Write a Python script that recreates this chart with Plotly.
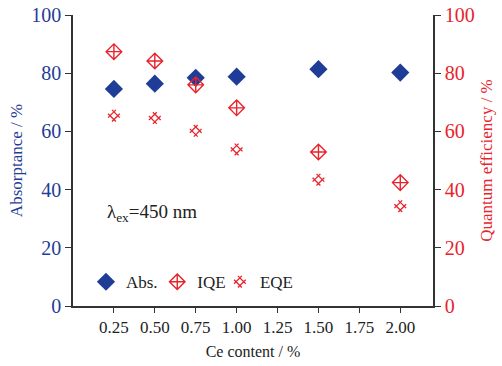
import plotly.graph_objects as go

ce = [0.25, 0.50, 0.75, 1.00, 1.50, 2.00]
absorb = [74.6, 76.4, 78.4, 78.8, 81.4, 80.2]
iqe = [87.4, 84.2, 76.0, 68.1, 52.9, 42.4]
eqe = [65.4, 64.6, 60.2, 53.8, 43.4, 34.3]
xticks = [0.25, 0.50, 0.75, 1.00, 1.25, 1.50, 1.75, 2.00]
yticks = [0, 20, 40, 60, 80, 100]

BLUE = "#1f3d97"
RED = "#e8232b"
FONT = "Liberation Serif"

fig = go.Figure()
fig.add_trace(go.Scatter(x=ce, y=absorb, mode="markers", name="Abs.", legend="legend",
                         marker=dict(symbol="diamond", size=14, color=BLUE)))
fig.add_trace(go.Scatter(x=ce, y=iqe, mode="markers", name="IQE", yaxis="y2", legend="legend2",
                         marker=dict(symbol="diamond-cross-open", size=12, color=RED,
                                     line=dict(width=1.4, color=RED))))
fig.add_trace(go.Scatter(x=ce, y=eqe, mode="markers", name="EQE", yaxis="y2", legend="legend3",
                         marker=dict(symbol="hash-open", angle=45, size=11, color=RED,
                                     line=dict(width=1.3, color=RED))))

leg_common = dict(orientation="h", y=0.02, xanchor="left", yanchor="bottom",
                  bgcolor="rgba(0,0,0,0)", font=dict(family=FONT, size=17, color="#222"),
                  itemwidth=30)

fig.update_layout(
    width=502, height=366,
    margin=dict(l=73, r=69, t=15, b=60, autoexpand=False),
    paper_bgcolor="white", plot_bgcolor="white",
    font=dict(family=FONT, size=16, color="#222"),
    showlegend=True,
    legend=dict(x=0.036, **leg_common),
    legend2=dict(x=0.234, **leg_common),
    legend3=dict(x=0.408, **leg_common),
    xaxis=dict(range=[0, 2.2], tickvals=xticks, automargin=False,
               ticktext=[f"{v:.2f}" for v in xticks],
               showline=True, linecolor="#333", linewidth=1.5, mirror=False,
               ticks="outside", ticklen=5, tickcolor="#333", showgrid=False, zeroline=False,
               tickfont=dict(family=FONT, size=17, color="#222"),
               title=dict(text="Ce content / %", font=dict(family=FONT, size=16, color="#222"), standoff=10)),
    yaxis=dict(range=[0, 100], tickvals=yticks, showline=True, linecolor="#333", linewidth=1.5,
               automargin=False,
               ticks="outside", ticklen=6, tickcolor="#333", showgrid=False, zeroline=False,
               tickfont=dict(family=FONT, size=20, color=BLUE),
               title=dict(text="Absorptance / %", font=dict(family=FONT, size=17, color=BLUE), standoff=4)),
    yaxis2=dict(range=[0, 100], tickvals=yticks, overlaying="y", side="right",
                showline=True, linecolor="#333", linewidth=1.5, automargin=False,
                ticks="outside", ticklen=6, tickcolor="#333", showgrid=False, zeroline=False,
                tickfont=dict(family=FONT, size=20, color=RED),
                title=dict(text="Quantum efficiency / %", font=dict(family=FONT, size=17, color=RED), standoff=6)),
    annotations=[dict(x=0.09, y=0.32, xref="paper", yref="paper", xanchor="left", yanchor="middle",
                      text="λ<sub>ex</sub>=450 nm", showarrow=False,
                      font=dict(size=19, color="#222", family=FONT))],
)

fig.write_html("out.html")
